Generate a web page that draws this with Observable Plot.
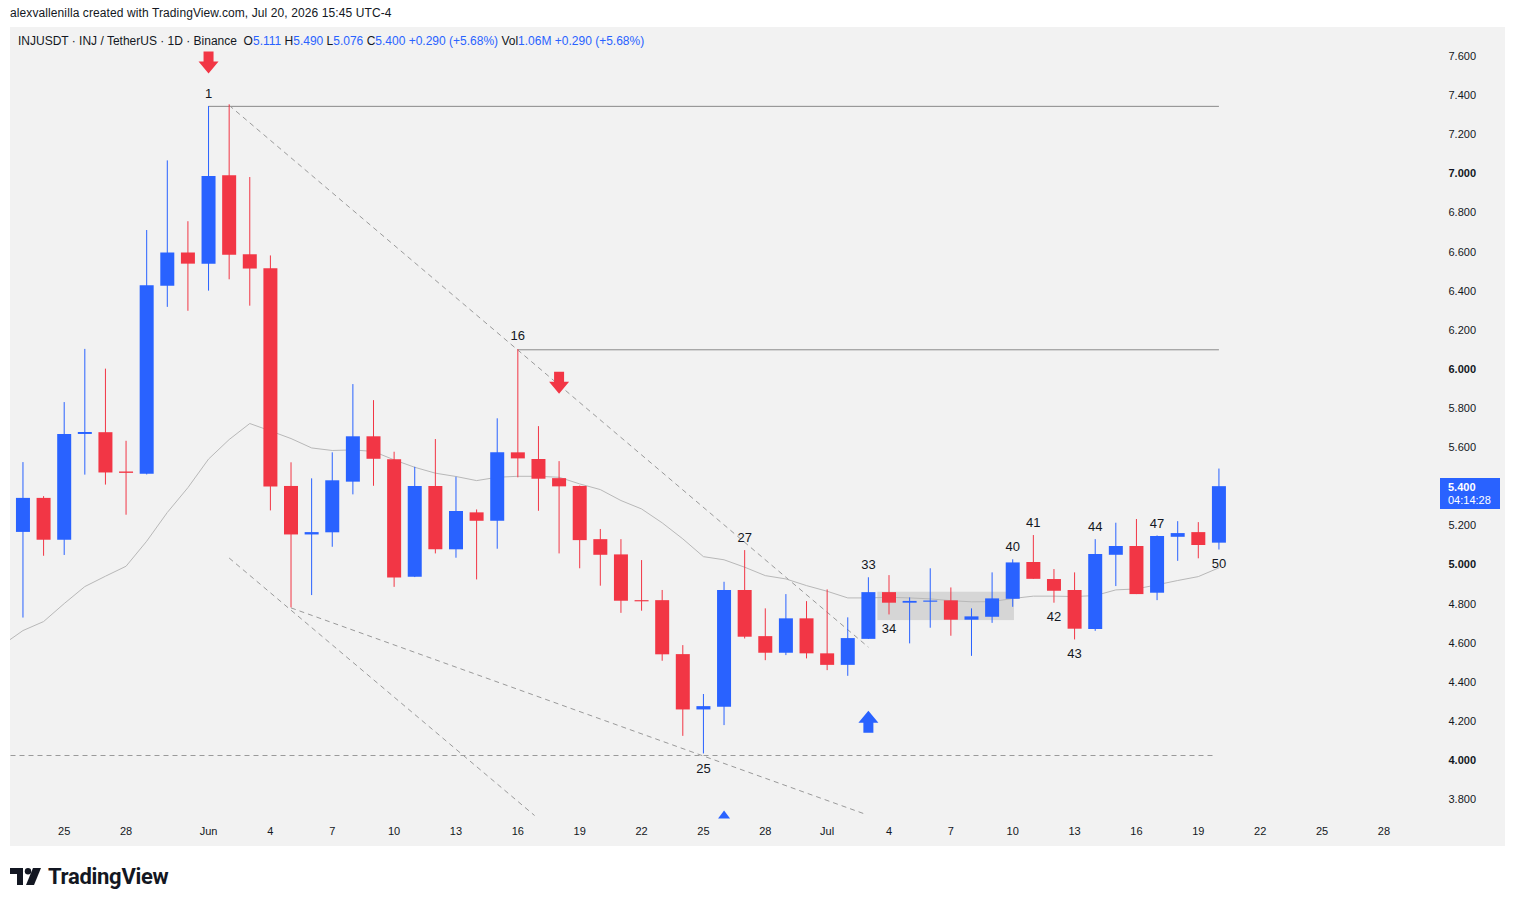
<!DOCTYPE html>
<html><head><meta charset="utf-8">
<script src="https://cdn.jsdelivr.net/npm/d3@7"></script>
<script src="https://cdn.jsdelivr.net/npm/@observablehq/plot@0.6"></script>
<style>
body{margin:0;background:#fff;font-family:"Liberation Sans",Arial,sans-serif;color:#131722;width:1515px;height:906px;position:relative;overflow:hidden}
#credit{position:absolute;left:10px;top:6px;font-size:12px;letter-spacing:0.1px;color:#131722;white-space:pre}
#panel{position:absolute;left:10px;top:27px;width:1495px;height:819px;background:#f2f2f2}
#legend{position:absolute;left:18px;top:34px;font-size:12px;white-space:pre;color:#131722;z-index:2}
.v{color:#2962ff}
#chart{position:absolute;left:10px;top:27px}
#pricebox{position:absolute;left:1440px;width:60px;height:31px;background:#2962ff;color:#fff;font-size:11px;line-height:13px;padding:3px 0 0 8px;box-sizing:border-box}
#pricebox b{font-weight:700}
#logo{position:absolute;left:10px;top:864px;height:24px;display:flex;align-items:center}
#logo span{font-family:Roboto,"Liberation Sans",sans-serif;font-weight:700;font-size:22px;letter-spacing:-0.3px;color:#131722;margin-left:6px}
</style>
</head><body>
<div id="credit">alexvallenilla created with TradingView.com, Jul 20, 2026 15:45 UTC-4</div>
<div id="panel"></div>
<div id="legend">INJUSDT · INJ / TetherUS · 1D · Binance  O<span class="v">5.111</span> H<span class="v">5.490</span> L<span class="v">5.076</span> C<span class="v">5.400</span> <span class="v">+0.290 (+5.68%)</span> Vol<span class="v">1.06M</span> <span class="v">+0.290 (+5.68%)</span></div>
<div id="chart"></div>
<div id="pricebox"><b>5.400</b><br>04:14:28</div>
<div id="logo"><svg width="32" height="17" viewBox="0 0 32 17"><path d="M0 0H13V17H7V6H0Z" fill="#131722"/><circle cx="18" cy="3.2" r="3.2" fill="#131722"/><path d="M23 0H31L24 17H16Z" fill="#131722"/></svg><span>TradingView</span></div>
<script>
// ---- candle data (INJUSDT, 1D) ----
const dates = ["2026-05-23","2026-05-24","2026-05-25","2026-05-26","2026-05-27","2026-05-28","2026-05-29","2026-05-30","2026-05-31",
"2026-06-01","2026-06-02","2026-06-03","2026-06-04","2026-06-05","2026-06-06","2026-06-07","2026-06-08","2026-06-09","2026-06-10",
"2026-06-11","2026-06-12","2026-06-13","2026-06-14","2026-06-15","2026-06-16","2026-06-17","2026-06-18","2026-06-19","2026-06-20",
"2026-06-21","2026-06-22","2026-06-23","2026-06-24","2026-06-25","2026-06-26","2026-06-27","2026-06-28","2026-06-29","2026-06-30",
"2026-07-01","2026-07-02","2026-07-03","2026-07-04","2026-07-05","2026-07-06","2026-07-07","2026-07-08","2026-07-09","2026-07-10",
"2026-07-11","2026-07-12","2026-07-13","2026-07-14","2026-07-15","2026-07-16","2026-07-17","2026-07-18","2026-07-19","2026-07-20"];
const open  = [5.166,5.340,5.126,5.667,5.676,5.475,5.464,6.425,6.595,
6.538,6.990,6.586,6.515,5.401,5.153,5.164,5.423,5.655,5.537,
4.937,5.401,5.077,5.266,5.223,5.573,5.539,5.441,5.401,5.129,
5.051,4.817,4.817,4.541,4.258,4.272,4.869,4.633,4.548,4.724,
4.545,4.486,4.619,4.858,4.804,4.809,4.816,4.717,4.732,4.824,
5.012,4.925,4.869,4.669,5.049,5.094,4.855,5.141,5.165,5.111];
const high  = [5.523,5.349,5.830,6.102,6.001,5.632,6.710,7.066,6.755,
7.344,7.353,6.981,6.580,5.522,5.440,5.573,5.922,5.840,5.576,
5.499,5.641,5.448,5.281,5.747,6.101,5.707,5.528,5.403,5.181,
5.129,5.022,4.869,4.587,4.337,4.911,5.073,4.775,4.848,4.812,
4.872,4.729,4.934,4.945,4.831,4.980,4.882,4.775,4.959,5.026,
5.150,4.976,4.959,5.129,5.213,5.232,5.148,5.221,5.216,5.490];
const low   = [4.728,5.044,5.048,5.459,5.408,5.254,5.460,6.317,6.297,
6.400,6.458,6.323,5.276,4.780,4.843,5.090,5.358,5.402,4.885,
4.935,5.056,5.034,4.923,5.080,5.445,5.274,5.056,4.980,4.891,
4.752,4.763,4.507,4.123,4.033,4.178,4.621,4.510,4.536,4.519,
4.459,4.430,4.619,4.744,4.596,4.676,4.635,4.532,4.701,4.783,
4.926,4.804,4.616,4.660,4.889,4.848,4.817,5.018,5.031,5.076];
const close = [5.340,5.126,5.667,5.677,5.470,5.468,6.427,6.595,6.538,
6.986,6.584,6.513,5.398,5.153,5.165,5.430,5.655,5.540,4.933,
5.401,5.077,5.273,5.223,5.573,5.542,5.438,5.399,5.124,5.049,
4.814,4.811,4.540,4.258,4.275,4.869,4.630,4.548,4.724,4.545,
4.486,4.623,4.858,4.804,4.813,4.815,4.717,4.734,4.826,5.010,
4.926,4.865,4.671,5.053,5.094,4.848,5.145,5.160,5.099,5.400];

// ---- moving average line ----
const maDates = ["2026-05-22", ...dates];
const maValues = [4.590,4.664,4.710,4.802,4.889,4.942,4.993,5.121,5.268,5.395,
5.541,5.641,5.723,5.685,5.646,5.598,5.585,5.588,5.580,5.537,
5.499,5.469,5.452,5.431,5.448,5.453,5.453,5.448,5.414,5.385,
5.329,5.286,5.215,5.133,5.042,5.026,4.988,4.945,4.928,4.894,
4.865,4.831,4.831,4.834,4.831,4.826,4.817,4.811,4.812,4.828,
4.840,4.840,4.838,4.843,4.872,4.877,4.898,4.920,4.940,4.985];

// ---- drawings ----
const hLineStart = ["2026-06-01","2026-06-16"];
const hLineEnd   = ["2026-07-20","2026-07-20"];
const hLinePrice = [7.345,6.100];

const dashStart      = ["2026-05-22T09:30Z","2026-06-02","2026-06-02","2026-06-05"];
const dashStartPrice = [4.025,7.350,5.035,4.780];
const dashEnd        = ["2026-07-19T19:00Z","2026-07-03","2026-06-16T19:30Z","2026-07-02T18:30Z"];
const dashEndPrice   = [4.025,4.579,3.718,3.728];

const zoneStart = ["2026-07-03T11:00Z"], zoneEnd = ["2026-07-10T02:00Z"];
const zoneLow = [4.715], zoneHigh = [4.860];

const labelDates  = ["2026-06-01","2026-06-16","2026-06-27","2026-06-25","2026-07-03","2026-07-04","2026-07-10","2026-07-11","2026-07-12","2026-07-13","2026-07-14","2026-07-17","2026-07-20"];
const labelPrices = [7.411,6.173,5.140,3.958,5.002,4.674,5.094,5.216,4.736,4.546,5.196,5.211,5.007];
const labelTexts  = ["1","16","27","25","33","34","40","41","42","43","44","47","50"];

const downArrowDates = ["2026-06-01","2026-06-18"], downArrowPrices = [7.569,5.932];
const upArrowDates = ["2026-07-03"], upArrowPrices = [4.198];
const smallTriDates = ["2026-06-26"], smallTriPrices = [3.723];

const yTicks = [3.8,4.0,4.2,4.4,4.6,4.8,5.0,5.2,5.4,5.6,5.8,6.0,6.2,6.4,6.6,6.8,7.0,7.2,7.4,7.6];
const xTickDates = ["2026-05-25","2026-05-28","2026-06-01","2026-06-04","2026-06-07","2026-06-10","2026-06-13","2026-06-16","2026-06-19","2026-06-22","2026-06-25","2026-06-28",
"2026-07-01","2026-07-04","2026-07-07","2026-07-10","2026-07-13","2026-07-16","2026-07-19","2026-07-22","2026-07-25","2026-07-28"];
const xTickLabels = ["25","28","Jun","4","7","10","13","16","19","22","25","28","Jul","4","7","10","13","16","19","22","25","28"];
const lastPrice = 5.400;

// ---- build tables ----
const D = s => new Date(s);
const candles = dates.map((d,i)=>({date:D(d),open:open[i],high:high[i],low:low[i],close:close[i]}));
const up = candles.filter(c=>c.close>=c.open), down = candles.filter(c=>c.close<c.open);
const ma = maDates.map((d,i)=>({date:D(d),value:maValues[i]}));
const hLines = hLinePrice.map((p,i)=>({x1:D(hLineStart[i]),x2:D(hLineEnd[i]),y:p}));
const dashLines = dashStart.map((s,i)=>({x1:D(s),y1:dashStartPrice[i],x2:D(dashEnd[i]),y2:dashEndPrice[i]}));
const zones = zoneStart.map((s,i)=>({x1:D(s),x2:D(zoneEnd[i]),y1:zoneLow[i],y2:zoneHigh[i]}));
const labels = labelTexts.map((t,i)=>({date:D(labelDates[i]),price:labelPrices[i],text:t}));
const downArrows = downArrowDates.map((d,i)=>({date:D(d),price:downArrowPrices[i]}));
const upArrows = upArrowDates.map((d,i)=>({date:D(d),price:upArrowPrices[i]}));
const smallTris = smallTriDates.map((d,i)=>({date:D(d),price:smallTriPrices[i]}));
const xTicks = xTickDates.map(D);
const xLabelMap = new Map(xTicks.map((d,i)=>[+d,xTickLabels[i]]));

const arrowDownSym = {draw(c){c.moveTo(-5,-11);c.lineTo(5,-11);c.lineTo(5,-1);c.lineTo(10,-1);c.lineTo(0,11);c.lineTo(-10,-1);c.lineTo(-5,-1);c.closePath();}};
const arrowUpSym = {draw(c){c.moveTo(-5,11);c.lineTo(5,11);c.lineTo(5,1);c.lineTo(10,1);c.lineTo(0,-11);c.lineTo(-10,1);c.lineTo(-5,1);c.closePath();}};
const triUpSym = {draw(c){c.moveTo(0,-4);c.lineTo(6,4);c.lineTo(-6,4);c.closePath();}};

const BLUE="#2962ff", RED="#f23645", INK="#131722";

const plot = Plot.plot({
  width:1495, height:819,
  marginLeft:0, marginRight:75, marginTop:0, marginBottom:30,
  style:{background:"transparent",fontFamily:'"Liberation Sans",Arial,sans-serif',fontSize:"11px",color:INK},
  x:{type:"utc",domain:[D("2026-05-22T09:30Z"),D("2026-07-30T06:15Z")],range:[0,1420]},
  y:{domain:[3.8,7.6],range:[772,29]},
  marks:[
    Plot.rect(zones,{x1:"x1",x2:"x2",y1:"y1",y2:"y2",fill:"#d3d3d3",fillOpacity:0.9}),
    Plot.link(hLines,{x1:"x1",x2:"x2",y1:"y",y2:"y",stroke:"#8a8a8a",strokeWidth:1}),
    Plot.link(dashLines,{x1:"x1",y1:"y1",x2:"x2",y2:"y2",stroke:"#9a9a9a",strokeWidth:1,strokeDasharray:"5,4",clip:true}),
    Plot.line(ma,{x:"date",y:"value",stroke:"#b8b8b8",strokeWidth:1,clip:true}),
    Plot.ruleX(up,{x:"date",y1:"low",y2:"high",stroke:BLUE,strokeWidth:1}),
    Plot.ruleX(down,{x:"date",y1:"low",y2:"high",stroke:RED,strokeWidth:1}),
    Plot.ruleX(up,{x:"date",y1:"open",y2:"close",stroke:BLUE,strokeWidth:14}),
    Plot.ruleX(down,{x:"date",y1:"open",y2:"close",stroke:RED,strokeWidth:14}),
    Plot.text(labels,{x:"date",y:"price",text:"text",fontSize:13,fill:INK}),
    Plot.dot(downArrows,{x:"date",y:"price",symbol:arrowDownSym,fill:RED,stroke:"none",r:8}),
    Plot.dot(upArrows,{x:"date",y:"price",symbol:arrowUpSym,fill:BLUE,stroke:"none",r:8}),
    Plot.dot(smallTris,{x:"date",y:"price",symbol:triUpSym,fill:BLUE,stroke:"none",r:4}),
    Plot.axisY(yTicks.filter(v=>Math.abs(v-Math.round(v))>1e-6),{anchor:"right",tickSize:0,tickPadding:18,tickFormat:d=>d.toFixed(3),label:null,fontSize:11,color:INK}),
    Plot.axisY(yTicks.filter(v=>Math.abs(v-Math.round(v))<=1e-6),{anchor:"right",tickSize:0,tickPadding:18,tickFormat:d=>d.toFixed(3),label:null,fontSize:11,fontWeight:"bold",color:INK}),
    Plot.axisX(xTicks,{anchor:"bottom",tickSize:0,tickPadding:11,tickFormat:d=>xLabelMap.get(+d),label:null,fontSize:11,color:INK})
  ]
});
document.getElementById("chart").appendChild(plot);
const py = plot.scale("y").apply(lastPrice);
document.getElementById("pricebox").style.top = (27 + py - 8) + "px";
</script>
</body></html>
